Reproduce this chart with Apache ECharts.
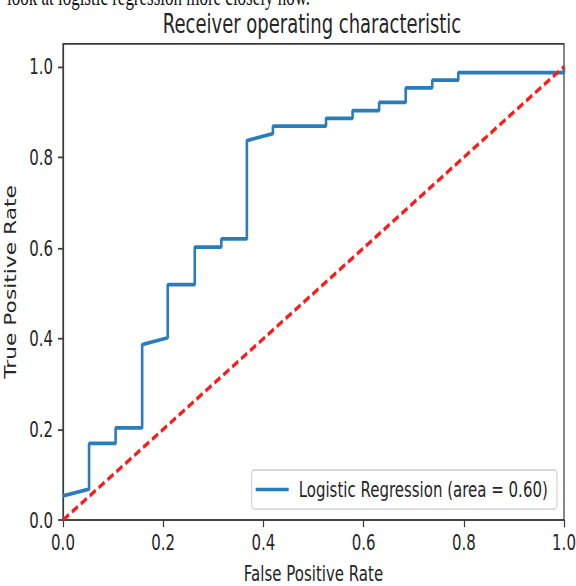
<!DOCTYPE html>
<html>
<head>
<meta charset="utf-8">
<script src="https://cdn.jsdelivr.net/npm/echarts@6/dist/echarts.min.js"></script>
<style>
html, body { margin: 0; padding: 0; background: #fff; overflow: hidden; }
#c { position: absolute; left: 0; top: 0; width: 576px; height: 404px; transform: scaleY(1.4505); transform-origin: 0 0; }
</style>
</head>
<body>
<div id="c"></div>
<script>
// ROC curve (Logistic Regression)
var fpr = [0, 0.052, 0.052, 0.105, 0.105, 0.158, 0.158, 0.209, 0.209, 0.263, 0.263, 0.316, 0.316, 0.367, 0.367, 0.419, 0.419, 0.525, 0.525, 0.578, 0.578, 0.631, 0.631, 0.684, 0.684, 0.737, 0.737, 0.789, 0.789, 1.0, 1.0];
var tpr = [0.053, 0.068, 0.169, 0.169, 0.203, 0.203, 0.387, 0.402, 0.519, 0.519, 0.602, 0.602, 0.620, 0.620, 0.837, 0.852, 0.869, 0.869, 0.886, 0.886, 0.903, 0.903, 0.921, 0.921, 0.953, 0.953, 0.970, 0.970, 0.987, 0.987, 1.0];
// Random-chance diagonal
var diagX = [0, 1];
var diagY = [0, 1];
var yTicks = [0, 0.2, 0.4, 0.6, 0.8, 1.0];
var titleText = 'Receiver operating characteristic';
var xName = 'False Positive Rate';
var yName = 'True Positive Rate';
var seriesName = 'Logistic Regression (area = 0.60)';
var pageText = 'look at logistic regression more closely now.';

function pairs(xs, ys) { return xs.map(function (x, i) { return [x, ys[i]]; }); }

var FONT = 'DejaVu Sans';
var INK = '#262626';
var SPINE = '#3a3a3a';
var BLUE = '#2a7dbd';

var chart = echarts.init(document.getElementById('c'), null, { renderer: 'svg' });
chart.setOption({
  animation: false,
  backgroundColor: '#fff',
  title: {
    text: titleText,
    left: 312, top: 7, padding: 0, textAlign: 'center',
    textStyle: { fontFamily: FONT, fontSize: 18, fontWeight: 'normal', color: INK }
  },
  graphic: [{
    type: 'text', left: 7, top: -11,
    style: { text: pageText, fontFamily: 'Liberation Serif', fontSize: 17, fill: '#111' }
  }],
  grid: { left: 63, right: 12, top: 30.3, bottom: 45.5, outerBoundsMode: 'none', containLabel: false, show: true, borderColor: SPINE, borderWidth: 1.2, backgroundColor: 'transparent' },
  legend: {
    data: [{ name: seriesName, icon: 'rect' }], right: 19, top: 324,
    padding: [6, 9, 6, 4], itemWidth: 33, itemHeight: 2.4,
    itemStyle: { color: BLUE },
    borderColor: '#cccccc', borderWidth: 1, borderRadius: 3,
    backgroundColor: 'rgba(255,255,255,0.85)',
    textStyle: { fontFamily: FONT, fontSize: 15, color: INK, padding: [0, 0, 0, 5] }
  },
  xAxis: {
    type: 'value', min: 0, max: 1, interval: 0.2,
    name: xName, nameLocation: 'middle', nameGap: 29.5,
    nameTextStyle: { fontFamily: FONT, fontSize: 15, color: INK },
    splitLine: { show: false },
    axisLine: { show: true, lineStyle: { color: SPINE, width: 1.2 } },
    axisTick: { show: true, inside: false, length: 5, lineStyle: { color: SPINE, width: 1.2 } },
    axisLabel: { margin: 8, fontFamily: FONT, fontSize: 15, color: INK, formatter: function (v) { return v.toFixed(1); } }
  },
  yAxis: {
    type: 'value', min: 0, max: 1.05,
    name: yName, nameLocation: 'middle', nameGap: 42, nameRotate: 90,
    nameTextStyle: { fontFamily: FONT, fontSize: 15, color: INK },
    splitLine: { show: false },
    axisLine: { show: true, lineStyle: { color: SPINE, width: 1.2 } },
    axisTick: { show: true, inside: false, length: 5, customValues: yTicks, lineStyle: { color: SPINE, width: 1.2 } },
    axisLabel: { margin: 10, fontFamily: FONT, fontSize: 15, color: INK, customValues: yTicks, formatter: function (v) { return v.toFixed(1); } }
  },
  series: [
    {
      name: seriesName, type: 'line', data: pairs(fpr, tpr),
      symbol: 'none', showSymbol: false, clip: false,
      lineStyle: { color: BLUE, width: 2.6 },
      itemStyle: { color: BLUE }
    },
    {
      name: 'chance', type: 'line', data: pairs(diagX, diagY),
      symbol: 'none', showSymbol: false, clip: false,
      lineStyle: { color: '#ff1a1a', width: 2.6, type: [7, 3.5] },
      itemStyle: { color: '#ff1a1a' }
    }
  ]
});
</script>
</body>
</html>
